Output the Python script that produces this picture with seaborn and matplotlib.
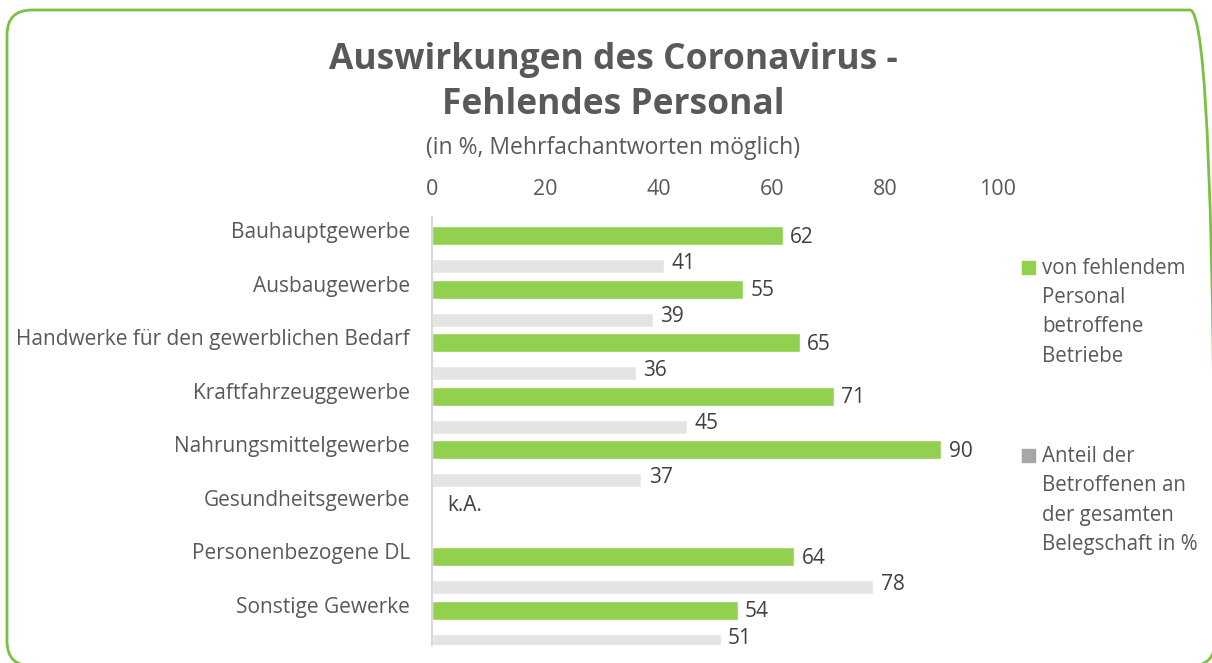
import seaborn as sns
import matplotlib.pyplot as plt
import numpy as np
import pandas as pd
from matplotlib.patches import FancyBboxPatch, Rectangle

sns.set_theme(style="white")
plt.rcParams['font.family'] = ['Open Sans', 'DejaVu Sans']

# data
categories = ['Bauhauptgewerbe', 'Ausbaugewerbe', 'Handwerke für den gewerblichen Bedarf',
              'Kraftfahrzeuggewerbe', 'Nahrungsmittelgewerbe', 'Gesundheitsgewerbe',
              'Personenbezogene DL', 'Sonstige Gewerke']
betroffen = [62, 55, 65, 71, 90, np.nan, 64, 54]
anteil = [41, 39, 36, 45, 37, np.nan, 78, 51]

green = '#92D050'
gray_bar = '#E4E4E4'
gray_leg = '#A6A6A6'
txt = '#595959'

pos = np.arange(len(categories))
df_g = pd.DataFrame({'pos': pos.astype(float), 'val': betroffen}).dropna()
df_a = pd.DataFrame({'pos': pos + 0.57, 'val': anteil}).dropna()

fig = plt.figure(figsize=(12.12, 6.63), dpi=100)
ax = fig.add_axes([432 / 1212, 1 - 645 / 663, (998 - 432) / 1212, (645 - 217) / 663])

sns.barplot(data=df_g, x='val', y='pos', orient='y', native_scale=True,
            color=green, width=0.355, errorbar=None, ax=ax, saturation=1)
sns.barplot(data=df_a, x='val', y='pos', orient='y', native_scale=True,
            color=gray_bar, width=0.26, errorbar=None, ax=ax, saturation=1)

ax.set_xlim(0, 100)
ax.set_ylim(7.65, -0.346)
ax.xaxis.tick_top()
ax.set_xticks([0, 20, 40, 60, 80, 100])
ax.tick_params(axis='x', length=0, labelsize=15.5, colors=txt, pad=12)
ax.set_yticks(pos - 0.1)
ax.set_yticklabels(categories)
ax.tick_params(axis='y', length=0, labelsize=15, colors=txt, pad=16)
ax.set_xlabel('')
ax.set_ylabel('')
for s in ['top', 'right', 'bottom']:
    ax.spines[s].set_visible(False)
ax.spines['left'].set_color('#D9D9D9')
ax.spines['left'].set_linewidth(1.5)

for p, v in zip(pos, betroffen):
    if np.isnan(v):
        ax.text(2.7, p + 0.05, 'k.A.', va='center', ha='left', fontsize=15, color='#404040')
    else:
        ax.text(v + 1.3, p + 0.03, f'{v:.0f}', va='center', ha='left', fontsize=15, color='#404040')
for p, v in zip(pos + 0.57, anteil):
    if not np.isnan(v):
        ax.text(v + 1.3, p - 0.05, f'{v:.0f}', va='center', ha='left', fontsize=15, color='#404040')

# titles
fig.text(613 / 1212, 1 - 60 / 663, 'Auswirkungen des Coronavirus -', ha='center', va='center',
         fontsize=25.5, fontweight='bold', color=txt)
fig.text(613 / 1212, 1 - 105 / 663, 'Fehlendes Personal', ha='center', va='center',
         fontsize=25.5, fontweight='bold', color=txt)
fig.text(613 / 1212, 1 - 148 / 663, '(in %, Mehrfachantworten möglich)', ha='center', va='center',
         fontsize=16.5, color=txt)

# legend
for y0, c, lines in [(268, green, ['von fehlendem', 'Personal', 'betroffene', 'Betriebe']),
                     (456, gray_leg, ['Anteil der', 'Betroffenen an', 'der gesamten', 'Belegschaft in %'])]:
    fig.patches.append(Rectangle((1022 / 1212, 1 - (y0 + 6) / 663), 13 / 1212, 13 / 663,
                                 transform=fig.transFigure, color=c))
    for k, line in enumerate(lines):
        fig.text(1042 / 1212, 1 - (y0 + 29.5 * k) / 663, line, ha='left', va='center',
                 fontsize=14.8, color=txt)

# rounded green frame
fig.patches.append(FancyBboxPatch((0.07, -0.03), 12.08, 6.56,
                                  boxstyle='round,pad=0,rounding_size=0.25',
                                  transform=fig.dpi_scale_trans, fill=False,
                                  edgecolor='#7AC143', linewidth=2))

fig.savefig('out.png', dpi=100)
